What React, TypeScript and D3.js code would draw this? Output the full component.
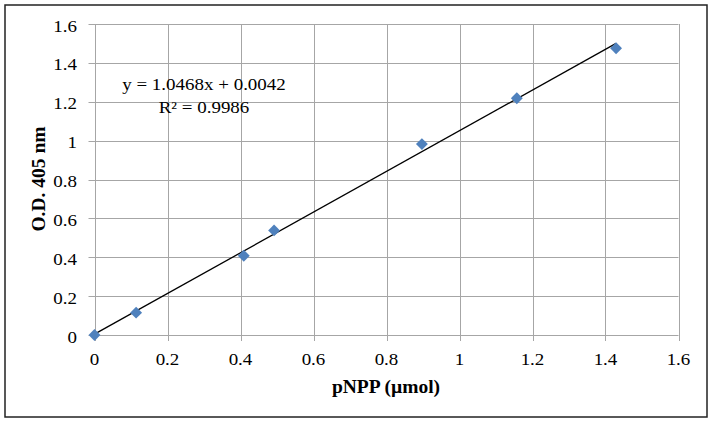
import React from "react";
import * as d3 from "d3";

const xValues = [0, 0.114, 0.409, 0.492, 0.897, 1.157, 1.429];
const yValues = [0, 0.115, 0.408, 0.538, 0.982, 1.218, 1.475];
const xTicks = [0, 0.2, 0.4, 0.6, 0.8, 1, 1.2, 1.4, 1.6];
const yTicks = [0, 0.2, 0.4, 0.6, 0.8, 1, 1.2, 1.4, 1.6];
const slope = 1.0468;
const intercept = 0.0042;
const equationText = "y = 1.0468x + 0.0042";
const r2Text = "R² = 0.9986";
const xTitle = "pNPP (µmol)";
const yTitle = "O.D. 405 nm";

const W = 714;
const H = 423;
const left = 94.5;
const right = 678.5;
const top = 24;
const bottom = 335;
const font = "'Liberation Serif', 'Times New Roman', serif";
const SX = 1.15;

function WideText(props: { x: number; y: number; anchor: string; children: React.ReactNode }) {
  return (
    <text
      transform={`translate(${props.x},${props.y}) scale(${SX},1)`}
      textAnchor={props.anchor}
      fontSize={16.5}
      fill="#000"
    >
      {props.children}
    </text>
  );
}

export default function App() {
  const x = d3.scaleLinear().domain([0, 1.6]).range([left, right]);
  const y = d3.scaleLinear().domain([0, 1.6]).range([bottom, top]);
  const xMin = d3.min(xValues)!;
  const xMax = d3.max(xValues)!;
  const line = d3
    .line<number>()
    .x((d) => x(d))
    .y((d) => y(slope * d + intercept));
  const diamond = d3.symbol().type(d3.symbolDiamond2).size(90)();
  const fmt = (v: number) => String(+v.toFixed(1));

  return (
    <svg
      width={W}
      height={H}
      style={{ position: "absolute", left: 0, top: 0, background: "#fff" }}
      fontFamily={font}
    >
      <rect x={5} y={5} width={702} height={412} fill="#fff" stroke="#222" strokeWidth={1.5} />
      {yTicks.map((t) => (
        <line key={"gy" + t} x1={left - 6} x2={right} y1={Math.round(y(t)) + 0.5} y2={Math.round(y(t)) + 0.5} stroke="#a6a6a6" strokeWidth={1} />
      ))}
      {xTicks.map((t) => (
        <line key={"gx" + t} x1={Math.round(x(t)) + 0.5} x2={Math.round(x(t)) + 0.5} y1={top} y2={bottom + 6} stroke="#a6a6a6" strokeWidth={1} />
      ))}
      {yTicks.map((t) => (
        <WideText key={"ty" + t} x={77} y={y(t) + 7.5} anchor="end">
          {fmt(t)}
        </WideText>
      ))}
      {xTicks.map((t) => (
        <WideText key={"tx" + t} x={x(t)} y={365} anchor="middle">
          {fmt(t)}
        </WideText>
      ))}
      <path d={line([xMin, xMax]) || ""} stroke="#000" strokeWidth={1.3} fill="none" />
      {xValues.map((v, i) => (
        <path key={"p" + i} d={diamond || ""} transform={`translate(${x(v)},${y(yValues[i])})`} fill="#4f81bd" />
      ))}
      <WideText x={204} y={89.5} anchor="middle">
        {equationText}
      </WideText>
      <WideText x={204} y={113} anchor="middle">
        {r2Text}
      </WideText>
      <text x={386} y={393} textAnchor="middle" fontSize={19.5} fontWeight="bold" fill="#000">
        {xTitle}
      </text>
      <text transform={`translate(44.5,179) rotate(-90)`} textAnchor="middle" fontSize={19.5} fontWeight="bold" fill="#000">
        {yTitle}
      </text>
    </svg>
  );
}
